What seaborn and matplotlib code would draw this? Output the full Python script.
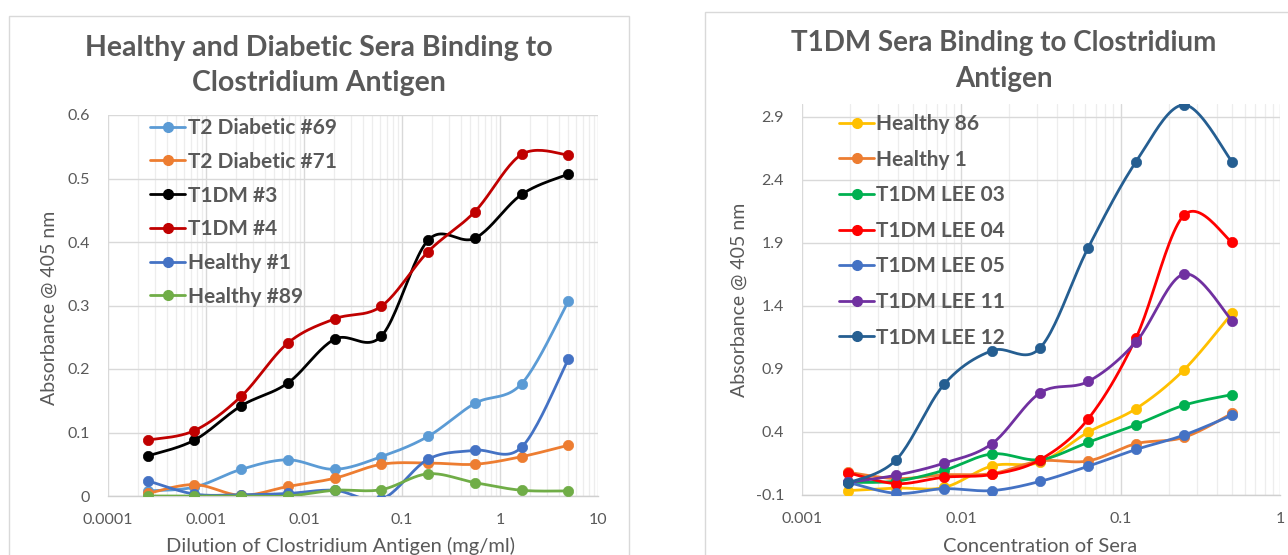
import numpy as np
import pandas as pd
import matplotlib
matplotlib.use("Agg")
import matplotlib.pyplot as plt
from matplotlib.lines import Line2D
from matplotlib.patches import Rectangle
from matplotlib.ticker import NullFormatter, LogLocator
import seaborn as sns

# ---------------- data: left chart ----------------
left_x = [5 / 3 ** k for k in range(9, -1, -1)]  # 3-fold dilution series (mg/ml)
left_series = ["T2 Diabetic #69", "T2 Diabetic #71", "T1DM #3", "T1DM #4", "Healthy #1", "Healthy #89"]
t2_69 = [0.008, 0.014, 0.042, 0.057, 0.042, 0.062, 0.094, 0.146, 0.177, 0.307]
t2_71 = [0.004, 0.018, 0.001, 0.015, 0.028, 0.050, 0.052, 0.050, 0.062, 0.080]
t1dm_3 = [0.063, 0.088, 0.142, 0.178, 0.247, 0.252, 0.403, 0.406, 0.475, 0.507]
t1dm_4 = [0.088, 0.103, 0.157, 0.241, 0.279, 0.299, 0.385, 0.448, 0.538, 0.537]
healthy_1 = [0.024, 0.003, 0.002, 0.004, 0.009, -0.005, 0.058, 0.072, 0.077, 0.216]
healthy_89 = [0.000, 0.000, 0.000, 0.000, 0.009, 0.010, 0.035, 0.021, 0.009, 0.008]
left_colors = ["#5B9BD5", "#ED7D31", "#000000", "#C00000", "#4472C4", "#70AD47"]
left_xticklabels = ["0.0001", "0.001", "0.01", "0.1", "1", "10"]
left_yticklabels = ["0", "0.1", "0.2", "0.3", "0.4", "0.5", "0.6"]

# ---------------- data: right chart ----------------
right_x = [0.5 / 2 ** k for k in range(8, -1, -1)]  # 2-fold dilution series
right_series = ["Healthy 86", "Healthy 1", "T1DM LEE 03", "T1DM LEE 04", "T1DM LEE 05", "T1DM LEE 11", "T1DM LEE 12"]
healthy_86 = [-0.065, -0.045, -0.040, 0.131, 0.160, 0.398, 0.585, 0.893, 1.341]
healthy_1r = [0.080, 0.030, 0.060, 0.070, 0.170, 0.170, 0.307, 0.357, 0.547]
lee_03 = [0.000, 0.010, 0.096, 0.226, 0.180, 0.318, 0.457, 0.612, 0.696]
lee_04 = [0.076, -0.010, 0.041, 0.063, 0.180, 0.503, 1.147, 2.119, 1.905]
lee_05 = [0.000, -0.087, -0.050, -0.065, 0.008, 0.128, 0.261, 0.375, 0.533]
lee_11 = [0.000, 0.057, 0.153, 0.308, 0.710, 0.800, 1.115, 1.652, 1.283]
lee_12 = [-0.005, 0.180, 0.779, 1.045, 1.067, 1.860, 2.543, 2.993, 2.543]
right_colors = ["#FFC000", "#ED7D31", "#00B050", "#FF0000", "#4472C4", "#7030A0", "#255E91"]
right_xticklabels = ["0.001", "0.01", "0.1", "1"]
right_yticklabels = ["-0.1", "0.4", "0.9", "1.4", "1.9", "2.4", "2.9"]

TXT = "#595959"
FONT = ["Lato", "DejaVu Sans"]

sns.set_theme(style="white")
plt.rcParams["font.family"] = FONT

W, H = 1288, 555
fig = plt.figure(figsize=(W / 100, H / 100), dpi=100)
fig.patch.set_facecolor("white")


def fx(px):
    return px / W


def fy(py):
    return 1 - py / H


def smooth(xs, ys, n=24):
    """Excel-style smoothed line (Catmull-Rom Bezier) in log-x space."""
    p = np.column_stack([np.log10(xs), ys])
    m = len(p)
    out = []
    t = np.linspace(0, 1, n)[:, None]
    for i in range(m - 1):
        p0 = p[max(i - 1, 0)]
        p1 = p[i]
        p2 = p[i + 1]
        p3 = p[min(i + 2, m - 1)]
        c1 = p1 + (p2 - p0) / 6
        c2 = p2 - (p3 - p1) / 6
        seg = ((1 - t) ** 3) * p1 + 3 * ((1 - t) ** 2) * t * c1 + 3 * (1 - t) * t ** 2 * c2 + t ** 3 * p2
        out.append(seg if i == 0 else seg[1:])
    s = np.vstack(out)
    return 10 ** s[:, 0], s[:, 1]


def draw(ax, xs, series_vals, names, colors):
    for k, (vals, name, col) in enumerate(zip(series_vals, names, colors)):
        sx, sy = smooth(xs, vals)
        df_line = pd.DataFrame({"x": sx, "y": sy})
        sns.lineplot(data=df_line, x="x", y="y", sort=False, estimator=None, color=col,
                     lw=2.0, ax=ax, zorder=3 + 2 * k)
        df_pts = pd.DataFrame({"x": xs, "y": vals})
        sns.scatterplot(data=df_pts, x="x", y="y", color=col, s=55, edgecolor=col,
                        linewidth=0.5, ax=ax, zorder=4 + 2 * k)


def style_axes(ax, xlim, ylim, yticks, ylabels, xticks, xlabels):
    ax.set_xscale("log")
    ax.set_xlim(*xlim)
    ax.set_ylim(*ylim)
    ax.set_yticks(yticks)
    ax.set_yticklabels(ylabels)
    ax.set_xticks(xticks)
    ax.set_xticklabels(xlabels)
    ax.xaxis.set_minor_locator(LogLocator(base=10, subs=np.arange(2, 10)))
    ax.xaxis.set_minor_formatter(NullFormatter())
    ax.grid(True, which="major", axis="both", color="#D9D9D9", lw=1.0, zorder=0)
    ax.grid(True, which="minor", axis="x", color="#EDEDED", lw=0.9, zorder=0)
    ax.set_axisbelow(True)
    for s in ["left", "right", "top"]:
        ax.spines[s].set_visible(False)
    ax.spines["bottom"].set_color("#D0D0D0")
    ax.spines["bottom"].set_linewidth(1.0)
    ax.tick_params(axis="both", which="both", length=0, labelcolor=TXT, labelsize=11.5)
    ax.tick_params(axis="y", pad=13)
    ax.tick_params(axis="x", pad=12)
    for lab in ax.get_xticklabels() + ax.get_yticklabels():
        lab.set_family(FONT)


# chart frames
fig.patches.append(Rectangle((fx(9), fy(560)), fx(629) - fx(9), fy(16) - fy(560),
                             transform=fig.transFigure, fill=False, edgecolor="#D9D9D9", lw=1.0))
fig.patches.append(Rectangle((fx(705), fy(560)), fx(1300) - fx(705), fy(12) - fy(560),
                             transform=fig.transFigure, fill=False, edgecolor="#D9D9D9", lw=1.0))

LEGPROP = {"family": FONT, "weight": "bold", "size": 15}

# ---------------- left chart ----------------
axL = fig.add_axes([fx(108), fy(496), fx(598) - fx(108), fy(115) - fy(496)])
draw(axL, left_x, [t2_69, t2_71, t1dm_3, t1dm_4, healthy_1, healthy_89], left_series, left_colors)
style_axes(axL, (1e-4, 10), (0, 0.6), np.arange(0, 0.61, 0.1), left_yticklabels,
           [1e-4, 1e-3, 1e-2, 1e-1, 1, 10], left_xticklabels)
axL.set_xlabel("Dilution of Clostridium Antigen (mg/ml)", color=TXT, fontsize=14.5)
axL.set_ylabel("Absorbance @ 405 nm", color=TXT, fontsize=14)
axL.xaxis.set_label_coords((340 - 108) / 490, -(546 - 496) / 381, transform=axL.transAxes)
axL.yaxis.set_label_coords(-(108 - 49) / 490, (496 - 308) / 381, transform=axL.transAxes)
axL.xaxis.label.set_va("center")
axL.yaxis.label.set_va("center")
fig.text(fx(319), fy(48), "Healthy and Diabetic Sera Binding to", ha="center", va="center",
         fontsize=20.5, fontweight="bold", color=TXT)
fig.text(fx(319), fy(83), "Clostridium Antigen", ha="center", va="center",
         fontsize=20.5, fontweight="bold", color=TXT)
hL = [Line2D([0], [0], color=c, lw=2.0, marker="o", markersize=7) for c in left_colors]
legL = axL.legend(hL, left_series, loc="upper left", bbox_to_anchor=(fx(150), fy(118)),
                  bbox_transform=fig.transFigure, frameon=False, borderpad=0, borderaxespad=0,
                  handlelength=1.7, handletextpad=0.1, labelspacing=0.66, prop=LEGPROP)
for t in legL.get_texts():
    t.set_color(TXT)

# ---------------- right chart ----------------
axR = fig.add_axes([fx(802), fy(495), fx(1280) - fx(802), fy(104) - fy(495)])
draw(axR, right_x, [healthy_86, healthy_1r, lee_03, lee_04, lee_05, lee_11, lee_12], right_series, right_colors)
style_axes(axR, (1e-3, 1), (-0.1, 3.0), np.arange(-0.1, 2.91, 0.5), right_yticklabels,
           [1e-3, 1e-2, 1e-1, 1], right_xticklabels)
axR.set_xlabel("Concentration of Sera", color=TXT, fontsize=14.5)
axR.set_ylabel("Absorbance @ 405 nm", color=TXT, fontsize=14)
axR.xaxis.set_label_coords((1040 - 802) / 478, -(546 - 495) / 391, transform=axR.transAxes)
axR.yaxis.set_label_coords(-(802 - 739) / 478, (495 - 300) / 391, transform=axR.transAxes)
axR.xaxis.label.set_va("center")
axR.yaxis.label.set_va("center")
fig.text(fx(1004), fy(43), "T1DM Sera Binding to Clostridium", ha="center", va="center",
         fontsize=20, fontweight="bold", color=TXT)
fig.text(fx(1004), fy(79), "Antigen", ha="center", va="center",
         fontsize=20, fontweight="bold", color=TXT)
hR = [Line2D([0], [0], color=c, lw=2.0, marker="o", markersize=7) for c in right_colors]
legR = axR.legend(hR, right_series, loc="upper left", bbox_to_anchor=(fx(839), fy(114)),
                  bbox_transform=fig.transFigure, frameon=False, borderpad=0, borderaxespad=0,
                  handlelength=1.7, handletextpad=0.1, labelspacing=0.75, prop=LEGPROP)
for t in legR.get_texts():
    t.set_color(TXT)

fig.savefig("out.png", dpi=100, facecolor="white")
